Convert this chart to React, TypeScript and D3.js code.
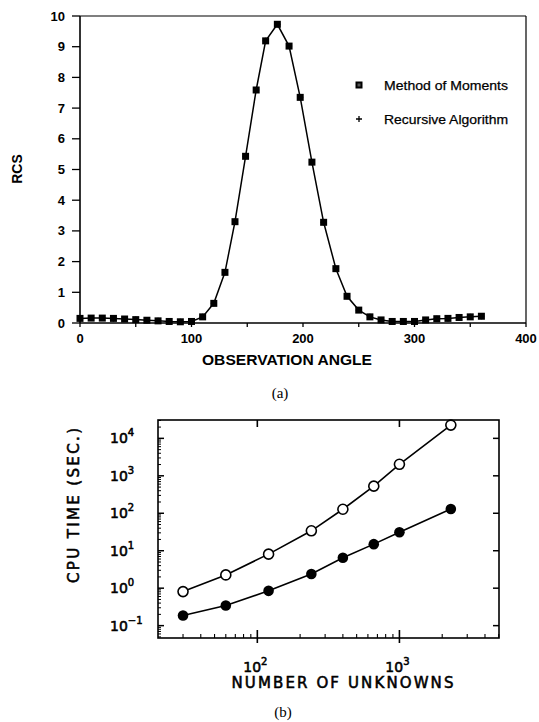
import React from 'react';
import * as d3 from 'd3';

const W = 539;
const H = 722;

// (a) RCS against observation angle
const rcsAngle = [
  0, 10, 20, 30, 40, 50, 60, 70, 80, 90, 100, 110, 120, 130, 139, 148.5, 158, 166.5, 177,
  187.5, 197.5, 208, 218.5, 229.5, 239.5, 250, 260, 270, 280, 290, 300, 310, 320, 330, 340, 350, 360,
];
const rcsValue = [
  0.15, 0.16, 0.16, 0.15, 0.13, 0.11, 0.09, 0.07, 0.05, 0.04, 0.05, 0.2, 0.64, 1.65, 3.3, 5.43, 7.59, 9.19, 9.73,
  9.02, 7.35, 5.24, 3.28, 1.77, 0.87, 0.42, 0.2, 0.1, 0.05, 0.05, 0.05, 0.1, 0.14, 0.15, 0.18, 0.2, 0.22,
];
const rcsXTicks = [0, 50, 100, 150, 200, 250, 300, 350, 400];
const rcsXLabels = [0, 100, 200, 300, 400];
const rcsYTicks = [0, 1, 2, 3, 4, 5, 6, 7, 8, 9, 10];
const legendLabels = ['Method of Moments', 'Recursive Algorithm'];

// (b) CPU time against number of unknowns
const unknowns = [30, 60, 120, 240, 400, 660, 1000, 2300];
const cpuOpen = [0.81, 2.26, 8.1, 34, 128, 530, 2030, 22600];
const cpuFilled = [0.186, 0.344, 0.85, 2.4, 6.5, 15, 31, 130];
const cpuYDecades = [-1, 0, 1, 2, 3, 4];
const cpuXDecades = [2, 3];

const sans = '"Liberation Sans", Arial, sans-serif';
const plot = '"DejaVu Sans", sans-serif';
const serif = '"Liberation Serif", "Times New Roman", serif';

// plotter-style lettering: regular face with a thin outline to thicken strokes
const plotText = { fontFamily: plot, stroke: '#000', strokeWidth: 0.55 };

function ChartA() {
  const x = d3.scaleLinear().domain([0, 400]).range([80, 526]);
  const y = d3.scaleLinear().domain([0, 10]).range([323, 16]);
  const line = d3
    .line<number>()
    .x((_, i) => x(rcsAngle[i]))
    .y((d) => y(d));

  return (
    <g>
      {/* frame */}
      <line x1={80} x2={80} y1={16} y2={323} stroke="#000" strokeWidth={1.6} />
      <line x1={80} x2={526} y1={323} y2={323} stroke="#000" strokeWidth={1.4} />
      <line x1={80} x2={526} y1={16} y2={16} stroke="#000" strokeWidth={1.2} />
      <line x1={526} x2={526} y1={16} y2={323} stroke="#000" strokeWidth={1.2} />

      {rcsYTicks.map((t) => (
        <g key={'yt' + t}>
          <line x1={72} x2={80} y1={y(t)} y2={y(t)} stroke="#000" strokeWidth={1.3} />
          <text x={65} y={y(t) + 4.5} textAnchor="end" fontFamily={sans} fontSize={13} fontWeight={600}>
            {t}
          </text>
        </g>
      ))}
      {rcsXTicks.map((t) => (
        <line key={'xt' + t} x1={x(t)} x2={x(t)} y1={323} y2={327} stroke="#000" strokeWidth={1.3} />
      ))}
      {rcsXLabels.map((t) => (
        <text key={'xl' + t} x={x(t)} y={343} textAnchor="middle" fontFamily={sans} fontSize={13} fontWeight={600}>
          {t}
        </text>
      ))}

      <text
        transform="translate(22,169) rotate(-90)"
        textAnchor="middle"
        fontFamily={sans}
        fontSize={14}
        fontWeight={600}
      >
        RCS
      </text>
      <text x={202} y={365} fontFamily={sans} fontSize={15} fontWeight={600} textLength={170} lengthAdjust="spacingAndGlyphs">
        OBSERVATION ANGLE
      </text>

      <path d={line(rcsValue) ?? ''} fill="none" stroke="#000" strokeWidth={1.5} />
      {rcsValue.map((v, i) => (
        <g key={'p' + i}>
          <path
            d={`M${x(rcsAngle[i]) - 3},${y(v)}h6M${x(rcsAngle[i])},${y(v) - 3}v6`}
            stroke="#000"
            strokeWidth={1.2}
          />
          <rect x={x(rcsAngle[i]) - 3.5} y={y(v) - 3.5} width={7} height={7} fill="#000" />
        </g>
      ))}

      {/* legend */}
      <rect x={355.5} y={81.5} width={7} height={7} fill="#000" />
      <rect x={357.5} y={83.5} width={3} height={3} fill="#555" />
      <path d="M356,119h6M359,116v6" stroke="#000" strokeWidth={1.3} />
      {legendLabels.map((l, i) => (
        <text
          key={l}
          x={384}
          y={90 + i * 33.5}
          fontFamily={sans}
          fontSize={13.5}
          stroke="#000"
          strokeWidth={0.25}
          textLength={124}
          lengthAdjust="spacingAndGlyphs"
        >
          {l}
        </text>
      ))}

      <text x={280} y={398} textAnchor="middle" fontFamily={serif} fontSize={15}>
        (a)
      </text>
    </g>
  );
}

function ChartB() {
  const x = d3.scaleLog().domain([20, 5020]).range([158, 499]);
  const y = d3.scaleLog().domain([Math.pow(10, -1.33), Math.pow(10, 4.49)]).range([638, 420]);
  const [y0, y1] = y.domain();
  const [x0, x1] = x.domain();

  const yMinor: number[] = [];
  for (let e = -2; e <= 4; e++) {
    for (let m = 2; m <= 9; m++) {
      const v = m * Math.pow(10, e);
      if (v > y0 && v < y1) yMinor.push(v);
    }
  }
  const xMinor: number[] = [];
  for (let e = 1; e <= 3; e++) {
    for (let m = 2; m <= 9; m++) {
      const v = m * Math.pow(10, e);
      if (v > x0 && v <= x1) xMinor.push(v);
    }
  }

  const line = d3
    .line<number>()
    .x((_, i) => x(unknowns[i]))
    .y((d) => y(d));

  return (
    <g>
      <rect x={158} y={420} width={341} height={218} fill="none" stroke="#000" strokeWidth={1.6} />

      {yMinor.map((v, i) => (
        <line key={'ym' + i} x1={158} x2={161} y1={y(v)} y2={y(v)} stroke="#000" strokeWidth={1} />
      ))}
      {cpuYDecades.map((e) => {
        const v = Math.pow(10, e);
        return (
          <g key={'yd' + e}>
            <line x1={158} x2={164} y1={y(v)} y2={y(v)} stroke="#000" strokeWidth={1.5} />
            <line x1={493} x2={499} y1={y(v)} y2={y(v)} stroke="#000" strokeWidth={1.5} />
            <text x={110} y={y(v) + 5} fontSize={14} {...plotText}>
              10
              <tspan dy={-7} fontSize={10}>
                {e < 0 ? '\u2212' + Math.abs(e) : e}
              </tspan>
            </text>
          </g>
        );
      })}

      {xMinor.map((v, i) => (
        <line key={'xm' + i} x1={x(v)} x2={x(v)} y1={638} y2={634} stroke="#000" strokeWidth={1.1} />
      ))}
      {cpuXDecades.map((e) => {
        const v = Math.pow(10, e);
        return (
          <g key={'xd' + e}>
            <line x1={x(v)} x2={x(v)} y1={643} y2={630} stroke="#000" strokeWidth={1.6} />
            <line x1={x(v)} x2={x(v)} y1={420} y2={427} stroke="#000" strokeWidth={1.6} />
            <text x={x(v) - 2} y={672} textAnchor="middle" fontSize={14} {...plotText}>
              10
              <tspan dy={-7} fontSize={10}>
                {e}
              </tspan>
            </text>
          </g>
        );
      })}

      <text
        transform="translate(79,505.5) rotate(-90)"
        textAnchor="middle"
        fontSize={15}
        textLength={155}
        lengthAdjust="spacing"
        {...plotText}
      >
        CPU TIME (SEC.)
      </text>
      <text x={342.5} y={688} textAnchor="middle" fontSize={15} textLength={222} lengthAdjust="spacing" {...plotText}>
        NUMBER OF UNKNOWNS
      </text>

      <path d={line(cpuOpen) ?? ''} fill="none" stroke="#000" strokeWidth={1.6} />
      <path d={line(cpuFilled) ?? ''} fill="none" stroke="#000" strokeWidth={1.6} />
      {cpuOpen.map((v, i) => (
        <circle key={'o' + i} cx={x(unknowns[i])} cy={y(v)} r={5} fill="#fff" stroke="#000" strokeWidth={1.6} />
      ))}
      {cpuFilled.map((v, i) => (
        <circle key={'f' + i} cx={x(unknowns[i])} cy={y(v)} r={5.3} fill="#000" />
      ))}

      <text x={283} y={717} textAnchor="middle" fontFamily={serif} fontSize={15}>
        (b)
      </text>
    </g>
  );
}

export default function App() {
  return (
    <div style={{ position: 'absolute', left: 0, top: 0, width: W, height: H, background: '#fff' }}>
      <svg width={W} height={H} viewBox={`0 0 ${W} ${H}`} style={{ display: 'block' }}>
        <rect width={W} height={H} fill="#fff" />
        <ChartA />
        <ChartB />
      </svg>
    </div>
  );
}
